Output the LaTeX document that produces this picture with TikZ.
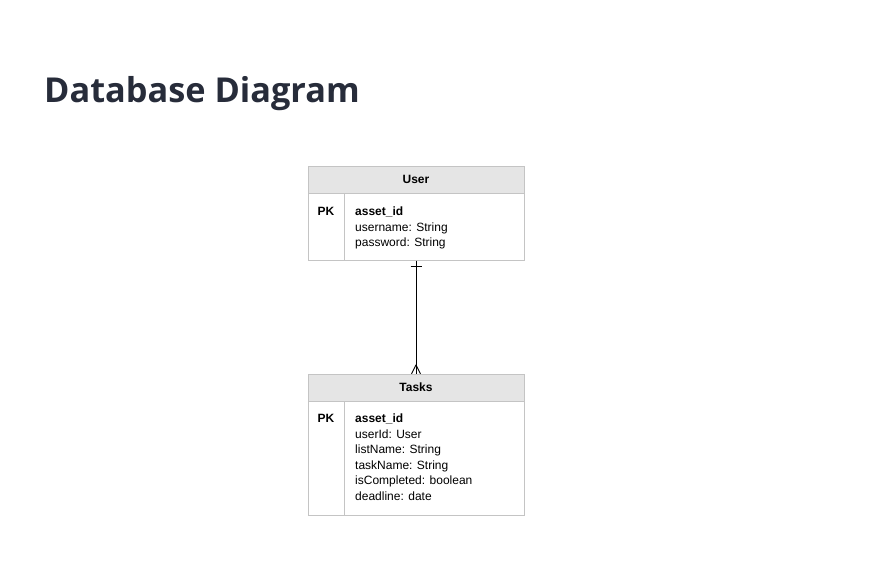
\documentclass[tikz,border=0pt]{standalone}
\usepackage{fontspec}
\setmainfont{Liberation Sans}
\newfontfamily\headfont{Open Sans}
\usetikzlibrary{calc,positioning}
\definecolor{titlecol}{HTML}{272C3A}
\definecolor{gridcol}{HTML}{C4C4C4}
\definecolor{hdrcol}{HTML}{E5E5E5}
\tikzset{
  hdr/.style={draw=gridcol,fill=hdrcol,minimum width=216,minimum height=27,inner sep=0,font=\fontsize{12}{14}\selectfont\bfseries},
  bdy/.style={draw=gridcol,fill=white,minimum width=216,inner sep=0,anchor=north},
  fld/.style={anchor=north west,inner sep=0,align=left,font=\fontsize{12}{15.5}\selectfont},
  pk/.style={inner sep=0,font=\fontsize{12}{14}\selectfont\bfseries},
  rel/.style={line width=.9pt,black}
}
\begin{document}
\begin{tikzpicture}[x=1pt,y=-1pt]
\useasboundingbox[fill=white](0,0)rectangle(876,563);
\node[anchor=base west,inner sep=0,text=titlecol,font=\headfont\bfseries\fontsize{34.3}{38}\selectfont](title)at(44,102){Database Diagram};
% User
\node[hdr](userh)at(416,179.5){User};
\node[bdy,minimum height=67](userb)at(userh.south){};
\draw[gridcol]($(userb.north west)+(36,0)$)--($(userb.south west)+(36,0)$);
\node[pk](userpk)at(326,211){PK};
\node[fld](userf)at(355,207){\textbf{asset\_id}\\username: String\\password: String};
% Tasks
\node[hdr](taskh)at(416,387.5){Tasks};
\node[bdy,minimum height=114](taskb)at(taskh.south){};
\draw[gridcol]($(taskb.north west)+(36,0)$)--($(taskb.south west)+(36,0)$);
\node[pk](taskpk)at(326,418){PK};
\node[fld](taskf)at(355,414){\textbf{asset\_id}\\userId: User\\listName: String\\taskName: String\\isCompleted: boolean\\deadline: date};
% relation
\draw[rel](userb.south)--(taskh.north);
\draw[rel]($(userb.south)+(-5.5,6)$)--++(11,0);
\draw[rel]($(taskh.north)+(0,-9)$)--($(taskh.north)+(-4.5,0)$);
\draw[rel]($(taskh.north)+(0,-9)$)--($(taskh.north)+(4.5,0)$);
\end{tikzpicture}
\end{document}
